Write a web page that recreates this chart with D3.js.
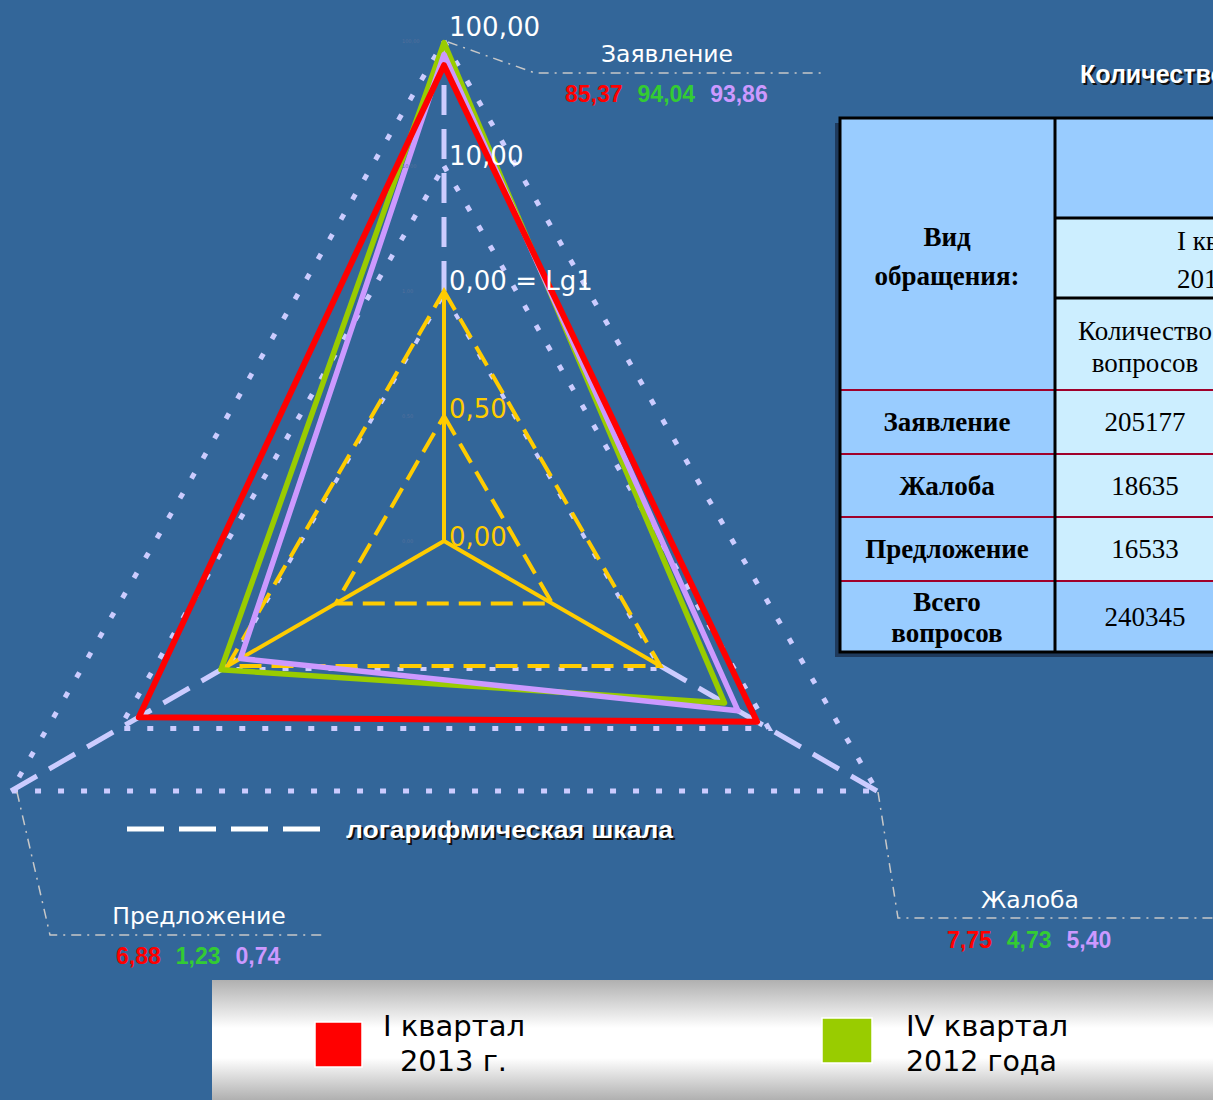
<!DOCTYPE html>
<html><head><meta charset="utf-8">
<script src="https://cdn.jsdelivr.net/npm/d3@7/dist/d3.min.js"></script>
<style>html,body{margin:0;padding:0;background:#336699;overflow:hidden}svg{display:block}</style>
</head><body><svg id="c" width="1213" height="1100"></svg>
<script>
// ---------- data ----------
const categories = ["Заявление", "Жалоба", "Предложение"];
const seriesNames = ["I квартал 2013 г.", "IV квартал 2012 года", "III квартал 2012 года"];
const seriesColors = ["#ff0000", "#99cc00", "#cc99ff"];
const labelColors = ["#ff0000", "#33cc33", "#cc99ff"];
// values printed beside each axis (percent)
const valuesRed = [85.37, 7.75, 6.88];
const valuesGreen = [94.04, 4.73, 1.23];
const valuesPurple = [93.86, 5.40, 0.74];
// plotted positions (scale units)
const plotRed = [64, 7.8, 6.6];
const plotGreen = [97, 3.9, 1.15];
const plotPurple = [78, 5.2, 0.94];
const ringTicks = [0, 0.5, 1, 10, 100];
const ringTickLabels = ["0,00", "0,50", "0,00 = Lg1", "10,00", "100,00"];
const tableRows = ["Заявление", "Жалоба", "Предложение", "Всего вопросов"];
const tableValues = [205177, 18635, 16533, 240345];

// ---------- geometry ----------
const svg = d3.select("#c");
const cx = 444, cy = 541;
const inner = d3.scaleLinear().domain([0, 1]).range([0, 250]);
const outer = d3.scaleLog().domain([1, 100]).range([250, 500]);
const r = v => v <= 1 ? inner(v) : outer(v);
const ang = i => (-90 + i * 120) * Math.PI / 180;
const pt = (i, v) => [cx + r(v) * Math.cos(ang(i)), cy + r(v) * Math.sin(ang(i))];
const closed = d3.line().curve(d3.curveLinearClosed);
const fmt = v => d3.format(".2f")(v).replace(".", ",");

svg.append("rect").attr("width", 1213).attr("height", 1100).attr("fill", "#336699");

const g = svg.append("g");
// outer rings (lavender dotted)
[10, 100].forEach(v => {
  g.append("path").attr("d", closed(categories.map((c, i) => pt(i, v))))
    .attr("fill", "none").attr("stroke", "#ccccff").attr("stroke-width", 5)
    .attr("stroke-dasharray", "6,17");
});
// ring at 1 lavender under gold
g.append("path").attr("d", closed(categories.map((c, i) => { const p = pt(i, 1); return [p[0], p[1] + 3]; })))
  .attr("fill", "none").attr("stroke", "#ccccff").attr("stroke-width", 4).attr("stroke-dasharray", "6,17");

// log spokes (lavender dashed)
categories.forEach((c, i) => {
  const a = pt(i, 1), b = pt(i, 100);
  g.append("line").attr("x1", a[0]).attr("y1", a[1]).attr("x2", b[0]).attr("y2", b[1])
    .attr("stroke", "#ccccff").attr("stroke-width", 5).attr("stroke-dasharray", "30,14");
});
// gold dashed rings
[0.5, 1].forEach(v => {
  g.append("path").attr("d", closed(categories.map((c, i) => pt(i, v))))
    .attr("fill", "none").attr("stroke", "#ffcc00").attr("stroke-width", 4)
    .attr("stroke-dasharray", "22,10");
});
// gold solid spokes
categories.forEach((c, i) => {
  const b = pt(i, 1);
  g.append("line").attr("x1", cx).attr("y1", cy).attr("x2", b[0]).attr("y2", b[1])
    .attr("stroke", "#ffcc00").attr("stroke-width", 4);
});

// series
const plots = [plotGreen, plotPurple, plotRed];
const plotColors = [seriesColors[1], seriesColors[2], seriesColors[0]];
const plotWidths = [5.5, 5.5, 6];
plots.forEach((vals, k) => {
  g.append("path").attr("d", closed(vals.map((v, i) => pt(i, v))))
    .attr("fill", "none").attr("stroke", plotColors[k]).attr("stroke-width", plotWidths[k])
    .attr("stroke-linejoin", "round");
});

// ring tick labels along the vertical axis
const tickOffsets = [-3, -6, -9, -9, -13];
ringTicks.forEach((t, k) => {
  const y = cy - r(t);
  svg.append("text").attr("x", 449).attr("y", y + tickOffsets[k])
    .attr("dominant-baseline", "middle")
    .attr("font-family", "DejaVu Sans, Verdana, sans-serif").attr("font-size", 26)
    .attr("fill", t < 1 ? "#ffcc00" : "#ffffff").text(ringTickLabels[k]);
  svg.append("text").attr("x", 402).attr("y", y + 2).attr("font-family", "DejaVu Sans")
    .attr("font-size", 5).attr("fill", "#54709c").text(fmt(t));
});

// leader lines (dash-dot)
const leader = pts => svg.append("path").attr("d", d3.line()(pts)).attr("fill", "none")
  .attr("stroke", "#c8c8c8").attr("stroke-width", 1.5).attr("stroke-dasharray", "10,6,2,6");
leader([[448, 42], [535, 73], [822, 73]]);
leader([[878, 792], [898, 918], [1213, 918]]);
leader([[17, 792], [50, 935], [325, 935]]);

// category labels & values
const catPos = [[667, 62, 565], [1030, 908, 947], [199, 924, 116]];
const allLabels = [valuesRed, valuesGreen, valuesPurple];
categories.forEach((c, i) => {
  svg.append("text").attr("x", catPos[i][0]).attr("y", catPos[i][1]).attr("text-anchor", "middle")
    .attr("font-family", "DejaVu Sans, Verdana, sans-serif").attr("font-size", 23.5)
    .attr("fill", "#ffffff").text(c);
  let x = catPos[i][2];
  allLabels.forEach((vals, k) => {
    const t = svg.append("text").attr("x", x).attr("y", catPos[i][1] + 40)
      .attr("font-family", "Liberation Sans, Arial, sans-serif").attr("font-weight", "bold")
      .attr("font-size", 23).attr("fill", labelColors[k]).text(fmt(vals[i]));
    x += t.node().getComputedTextLength() + 15;
  });
});

// log scale legend
svg.append("line").attr("x1", 127).attr("x2", 323).attr("y1", 829).attr("y2", 829)
  .attr("stroke", "#ffffff").attr("stroke-width", 5).attr("stroke-dasharray", "37,15");
[["#111", 2, 2], ["#ffffff", 0, 0]].forEach(([col, dx, dy]) => {
  svg.append("text").attr("x", 346 + dx).attr("y", 838 + dy)
    .attr("font-family", "Liberation Sans, Arial, sans-serif").attr("font-weight", "bold")
    .attr("font-size", 24).attr("textLength", 327).attr("lengthAdjust", "spacingAndGlyphs")
    .attr("fill", col).text("логарифмическая шкала");
});

// ---------- table ----------
const T = svg.append("g");
const x0 = 840, x1 = 1055;
const rowY = [118, 218, 298, 390, 454, 517, 581, 652];
T.append("rect").attr("x", x0 - 5).attr("y", rowY[0] + 5).attr("width", 500).attr("height", rowY[7] - rowY[0])
  .attr("fill", "#1f3a5c");
T.append("rect").attr("x", x0).attr("y", rowY[0]).attr("width", x1 - x0).attr("height", rowY[7] - rowY[0]).attr("fill", "#99ccff");
T.append("rect").attr("x", x1).attr("y", rowY[0]).attr("width", 400).attr("height", rowY[1] - rowY[0]).attr("fill", "#99ccff");
T.append("rect").attr("x", x1).attr("y", rowY[1]).attr("width", 400).attr("height", rowY[6] - rowY[1]).attr("fill", "#cceeff");
T.append("rect").attr("x", x1).attr("y", rowY[6]).attr("width", 400).attr("height", rowY[7] - rowY[6]).attr("fill", "#99ccff");
[3, 4, 5, 6].forEach(k => T.append("line").attr("x1", x0).attr("x2", 1213).attr("y1", rowY[k]).attr("y2", rowY[k])
  .attr("stroke", "#a0002a").attr("stroke-width", 2));
T.append("line").attr("x1", x1).attr("x2", 1213).attr("y1", rowY[1]).attr("y2", rowY[1]).attr("stroke", "#000").attr("stroke-width", 3);
T.append("line").attr("x1", x1).attr("x2", 1213).attr("y1", rowY[2]).attr("y2", rowY[2]).attr("stroke", "#000").attr("stroke-width", 3);
T.append("line").attr("x1", x1).attr("x2", x1).attr("y1", rowY[0]).attr("y2", rowY[7]).attr("stroke", "#000").attr("stroke-width", 3);
T.append("rect").attr("x", x0).attr("y", rowY[0]).attr("width", 600).attr("height", rowY[7] - rowY[0])
  .attr("fill", "none").attr("stroke", "#000").attr("stroke-width", 3);

const serif = "Liberation Serif, Times New Roman, serif";
const ttext = (x, y, s, bold, anchor) => T.append("text").attr("x", x).attr("y", y)
  .attr("text-anchor", anchor || "middle").attr("font-family", serif).attr("font-size", 27)
  .attr("font-weight", bold ? "bold" : "normal").attr("fill", "#000").text(s);
ttext(947, 246, "Вид", true);
ttext(947, 285, "обращения:", true);
ttext(1177, 250, "I квартал", false, "start");
ttext(1177, 288, "2013 г.", false, "start");
ttext(1145, 340, "Количество", false);
ttext(1145, 372, "вопросов", false);
tableRows.forEach((name, k) => {
  const yc = (rowY[3 + k] + rowY[4 + k]) / 2;
  if (k === 3) { ttext(947, yc - 6, "Всего", true); ttext(947, yc + 25, "вопросов", true); }
  else ttext(947, yc + 9, name, true);
  ttext(1145, yc + 9, String(tableValues[k]), false);
});
// title (cut at edge)
[["#111", 2, 2], ["#ffffff", 0, 0]].forEach(([col, dx, dy]) => {
  svg.append("text").attr("x", 1080 + dx).attr("y", 83 + dy)
    .attr("font-family", "Liberation Sans, Arial, sans-serif").attr("font-weight", "bold")
    .attr("font-size", 25).attr("fill", col).text("Количество обращений");
});

// ---------- series legend ----------
const defs = svg.append("defs");
const lg = defs.append("linearGradient").attr("id", "lg").attr("x1", 0).attr("x2", 0).attr("y1", 0).attr("y2", 1);
[[0, "#b0b0b0"], [0.4, "#ffffff"], [0.65, "#ffffff"], [1, "#b0b0b0"]].forEach(([o, c]) =>
  lg.append("stop").attr("offset", o).attr("stop-color", c));
svg.append("rect").attr("x", 212).attr("y", 980).attr("width", 1001).attr("height", 120).attr("fill", "url(#lg)");
const legItems = [
  { sq: [315, 1022, 47, 45], color: seriesColors[0], lines: [["I квартал", 383, 142], ["2013 г.", 400, 107]] },
  { sq: [822, 1018, 50, 45], color: seriesColors[1], lines: [["IV квартал", 906, 162], ["2012 года", 906, 151]] }
];
legItems.forEach(it => {
  svg.append("rect").attr("x", it.sq[0]).attr("y", it.sq[1]).attr("width", it.sq[2]).attr("height", it.sq[3])
    .attr("fill", it.color).attr("stroke", "#ffffff").attr("stroke-width", 1.5);
  it.lines.forEach(([s, x, w], j) => {
    svg.append("text").attr("x", x).attr("y", 1036 + j * 35).attr("font-family", "DejaVu Sans, sans-serif")
      .attr("font-size", 28).attr("textLength", w).attr("lengthAdjust", "spacingAndGlyphs")
      .attr("fill", "#000").text(s);
  });
});
</script></body></html>
